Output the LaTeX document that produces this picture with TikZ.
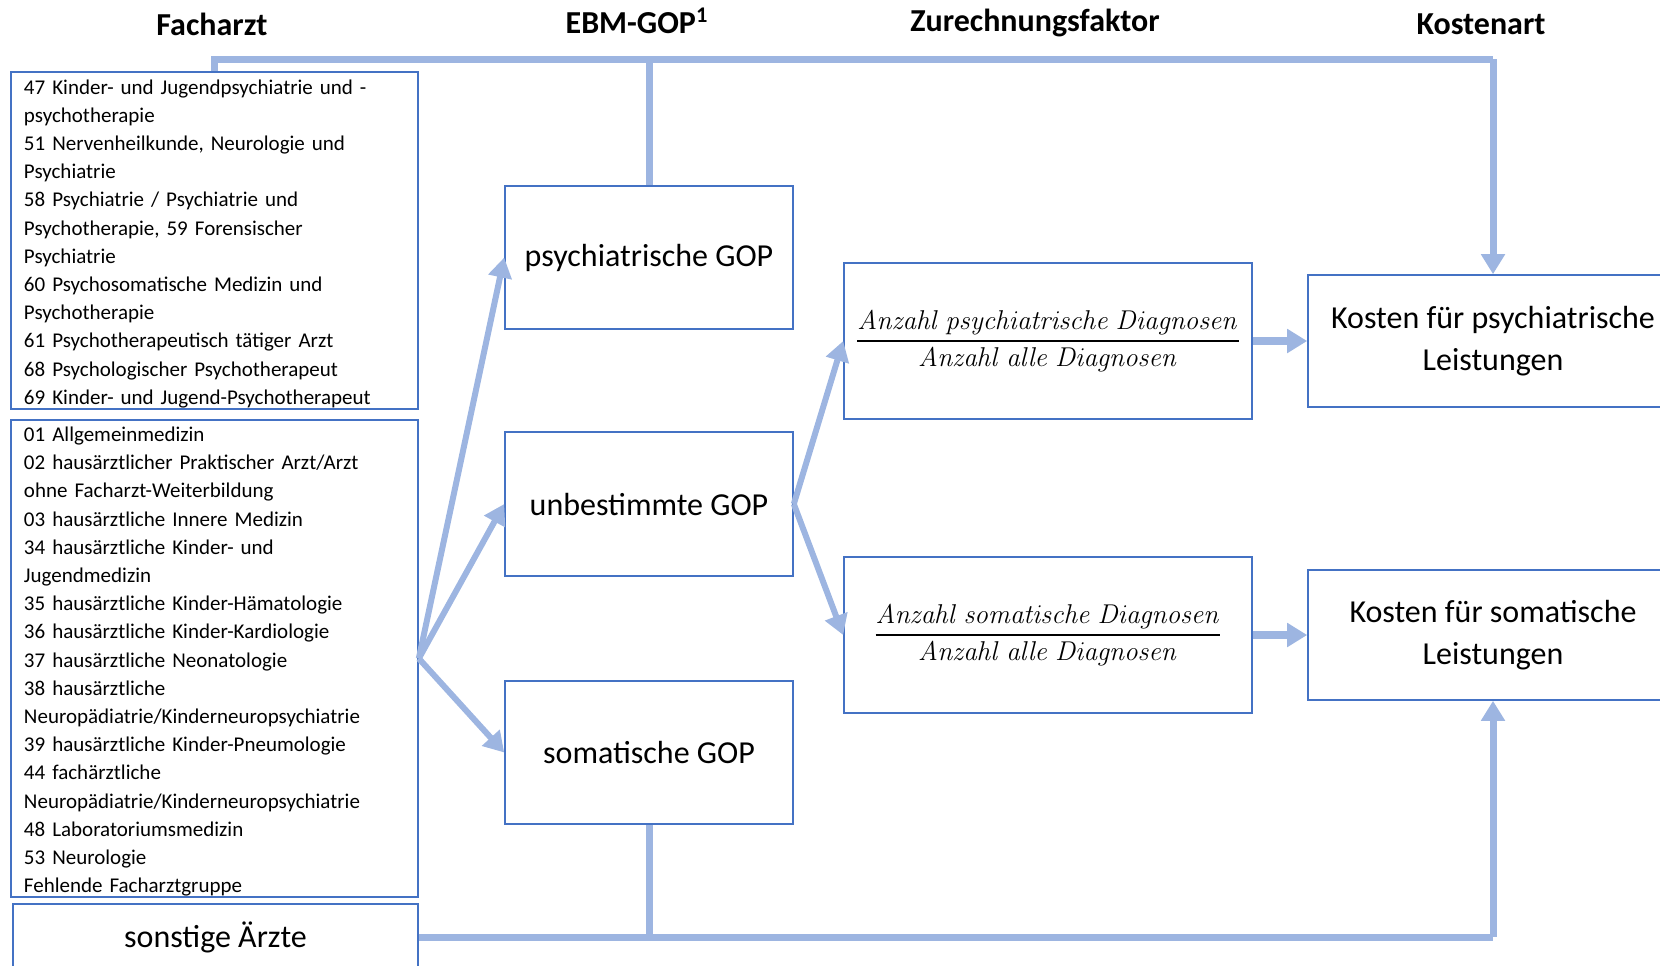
\RequirePackage{fix-cm}
\documentclass[tikz,border=0pt]{standalone}
\usepackage[no-math]{fontspec}
\setmainfont{Carlito}
\usepackage{amsmath}
\usepackage{xcolor}
\usetikzlibrary{arrows.meta}

\definecolor{azul}{HTML}{4472C4}
\definecolor{azulclaro}{RGB}{157,181,225}

\begin{document}
\begin{tikzpicture}[
    x=0.5pt, y=-0.5pt,
    % Definimos los estilos para no repetir codigo
    lista/.style={rectangle, draw=azul, line width=0.8pt, align=left, text width=190.5pt,
      inner xsep=6.5pt, inner ysep=0pt, font=\fontsize{10.5}{14.1}\selectfont,
      execute at end node={\endgraf\vspace*{-3.2pt}}},
    caja/.style={rectangle, draw=azul, line width=0.8pt, align=center, inner sep=0pt,
      font=\fontsize{16}{21}\selectfont},
    bruch/.style={caja, font=\fontsize{13.6}{17}\selectfont},
    titulo/.style={font=\fontsize{16}{19}\selectfont\bfseries},
    linea/.style={draw=azulclaro, line width=3.5pt},
    flecha/.style={draw=azulclaro, line width=3pt, -{Triangle[length=10pt,width=11.5pt]}}
  ]

  \useasboundingbox (0,0) rectangle (1660,965);
  \clip (0,0) rectangle (1660,965);

  % 1. Titulos de las columnas
  \node[titulo] (t1) at (212,24)  {Facharzt};
  \node[titulo] (t2) at (637,21)  {EBM-GOP\textsuperscript{1}};
  \node[titulo] (t3) at (1035,23) {Zurechnungsfaktor};
  \node[titulo] (t4) at (1481,24) {Kostenart};

  % 2. Grupos de Facharzt (columna izquierda)
  \node[lista, minimum height=168.5pt] (psi) at (214.5,240.5) {%
    47 Kinder- und Jugendpsychiatrie und -\\
    psychotherapie\\
    51 Nervenheilkunde, Neurologie und\\
    Psychiatrie\\
    58 Psychiatrie / Psychiatrie und\\
    Psychotherapie, 59 Forensischer\\
    Psychiatrie\\
    60 Psychosomatische Medizin und\\
    Psychotherapie\\
    61 Psychotherapeutisch tätiger Arzt\\
    68 Psychologischer Psychotherapeut\\
    69 Kinder- und Jugend-Psychotherapeut};
  \node[lista, minimum height=238.5pt] (gen) at (214.5,658.5) {%
    01 Allgemeinmedizin\\
    02 hausärztlicher Praktischer Arzt/Arzt\\
    ohne Facharzt-Weiterbildung\\
    03 hausärztliche Innere Medizin\\
    34 hausärztliche Kinder- und\\
    Jugendmedizin\\
    35 hausärztliche Kinder-Hämatologie\\
    36 hausärztliche Kinder-Kardiologie\\
    37 hausärztliche Neonatologie\\
    38 hausärztliche\\
    Neuropädiatrie/Kinderneuropsychiatrie\\
    39 hausärztliche Kinder-Pneumologie\\
    44 fachärztliche\\
    Neuropädiatrie/Kinderneuropsychiatrie\\
    48 Laboratoriumsmedizin\\
    53 Neurologie\\
    Fehlende Facharztgruppe};
  \node[caja, minimum width=202.5pt, minimum height=33pt] (otros) at (215.5,937) {sonstige Ärzte};

  % 3. Cajas de las GOP
  \node[caja, minimum width=144pt, minimum height=71.5pt] (gp) at (649,257.5) {psychiatrische GOP};
  \node[caja, minimum width=144pt, minimum height=72pt]   (gu) at (649,504)   {unbestimmte GOP};
  \node[caja, minimum width=144pt, minimum height=71.5pt] (gs) at (649,752.5) {somatische GOP};

  % 4. Factores de asignacion
  \node[bruch, minimum width=204pt, minimum height=78pt] (f1) at (1048,341)
    {$\genfrac{}{}{0.8pt}{0}{\mathit{Anzahl\ psychiatrische\ Diagnosen}}{\mathit{Anzahl\ alle\ Diagnosen}}$};
  \node[bruch, minimum width=204pt, minimum height=78pt] (f2) at (1048,635)
    {$\genfrac{}{}{0.8pt}{0}{\mathit{Anzahl\ somatische\ Diagnosen}}{\mathit{Anzahl\ alle\ Diagnosen}}$};

  % 5. Tipos de costes
  \node[caja, minimum width=185pt, minimum height=66pt] (kp) at (1493,341) {Kosten für psychiatrische\\Leistungen};
  \node[caja, minimum width=185pt, minimum height=65pt] (ks) at (1493,635) {Kosten für somatische\\Leistungen};

  % 6. Conexiones (Edges)
  \coordinate (arriba) at (0,59);
  \draw[linea] (psi.north) |- (kp.north |- arriba);
  \draw[flecha, line width=3.5pt] (kp.north |- arriba) -- (kp.north);
  \draw[linea] (gp.north) -- (gp.north |- arriba);

  \draw[linea] (otros.east) -- (ks.south |- otros.east);
  \draw[flecha, line width=3.5pt] (ks.south |- otros.east) -- (ks.south);
  \draw[linea] (gs.south) -- (gs.south |- otros.east);

  % Desde los otros Facharzt a las GOP
  \draw[flecha] (gen.east) -- (gp.west);
  \draw[flecha] (gen.east) -- (gu.west);
  \draw[flecha] (gen.east) -- (gs.west);

  % Desde la GOP unbestimmte a los factores
  \draw[flecha] (gu.east) -- (f1.west);
  \draw[flecha] (gu.east) -- (f2.west);

  % Desde los factores a los costes
  \draw[flecha, line width=4pt] (f1.east) -- (kp.west);
  \draw[flecha, line width=4pt] (f2.east) -- (ks.west);

\end{tikzpicture}
\end{document}
